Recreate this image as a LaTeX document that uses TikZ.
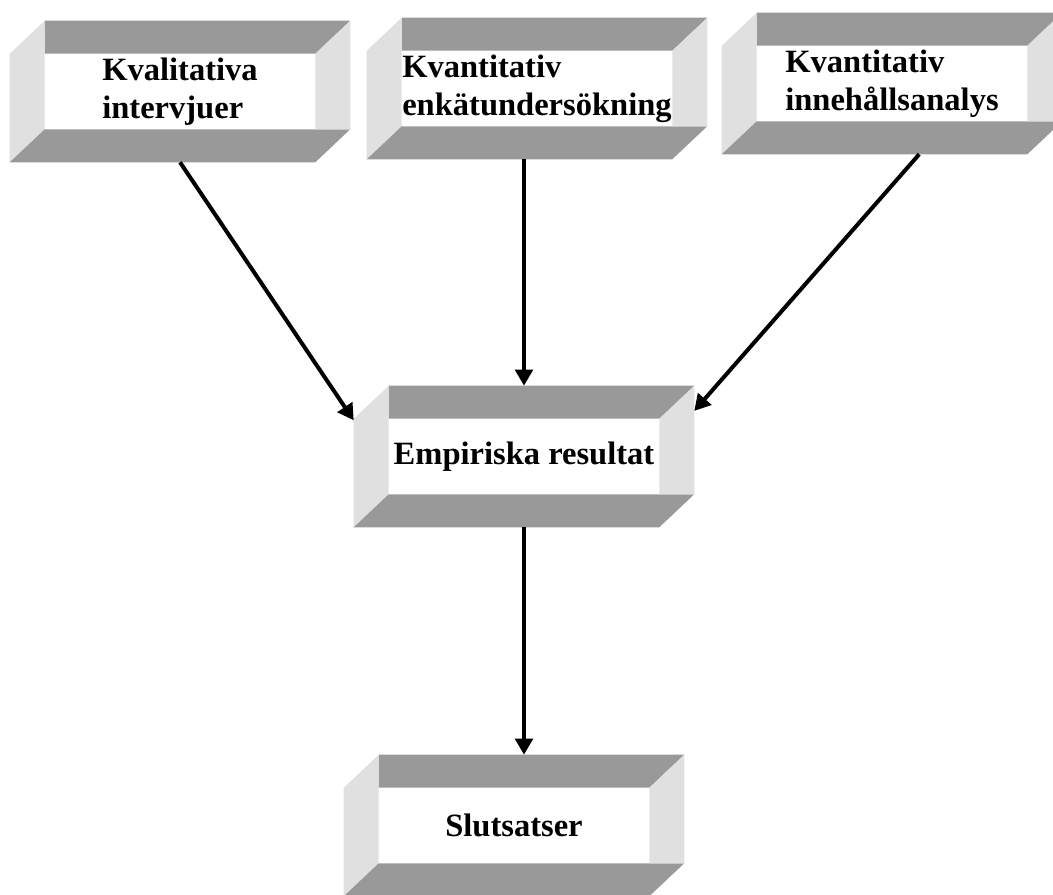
\documentclass[tikz,border=0pt]{standalone}
\usepackage{fontspec}
\setmainfont{Liberation Serif}
\usetikzlibrary{arrows.meta,backgrounds}
\definecolor{bandgray}{RGB}{153,153,153}
\definecolor{sidegray}{RGB}{224,224,224}
\newcommand{\bevdx}{26.25pt}
\newcommand{\bevdy}{24.75pt}
\begin{document}
\begin{tikzpicture}
[ x=0.75pt, y=-0.75pt
, bevel/.style={rectangle, minimum width=255pt, minimum height=105.75pt, inner sep=0pt, align=left,
    font=\bfseries\fontsize{24.4}{28.5}\selectfont}
, band/.style={fill=bandgray}
, side/.style={fill=sidegray}
, link/.style={line width=3pt, -{Triangle[length=12pt, width=13pt]}}
]
\useasboundingbox (0,0) rectangle (1053,894);
% Methods:
\node (kval) [bevel] at (180,91.5) {Kvalitativa\\intervjuer};
\node (enkat) [bevel] at (537,88.5) {Kvantitativ\\enkätundersökning};
\node (innehall) [bevel] at (892,83.5) {Kvantitativ\\innehållsanalys};
% Results:
\node (emp) [bevel] at (524,456.5) {Empiriska resultat};
\node (slut) [bevel] at (514,825.5) {Slutsatser};
% Bevelled frames:
\begin{scope}[on background layer]
\foreach \n in {kval,enkat,innehall,emp,slut} {
  \path [band] ([xshift=\bevdx]\n.north west) -- (\n.north east) -- ++(-\bevdx,-\bevdy)
    -- ([xshift=\bevdx,yshift=-\bevdy]\n.north west) -- cycle;
  \path [side] ([yshift=-\bevdy]\n.north west) -- ([xshift=\bevdx]\n.north west)
    -- ([xshift=\bevdx,yshift=\bevdy]\n.south west) -- (\n.south west) -- cycle;
  \path [band] ([xshift=\bevdx,yshift=\bevdy]\n.south west) -- ([yshift=\bevdy]\n.south east)
    -- ([xshift=-\bevdx]\n.south east) -- (\n.south west) -- cycle;
  \path [side] ([xshift=-\bevdx,yshift=-\bevdy]\n.north east) -- (\n.north east)
    -- ([yshift=\bevdy]\n.south east) -- ([xshift=-\bevdx,yshift=\bevdy]\n.south east) -- cycle;
}
\end{scope}
\draw [link] (kval.south) -- (emp.168);
\draw [link] (enkat.south -| emp.north) -- (emp.north);
\draw [link] (innehall.291) -- (emp.15);
\draw [link] (emp.south) -- (emp.south |- slut.north);
\end{tikzpicture}
\end{document}
